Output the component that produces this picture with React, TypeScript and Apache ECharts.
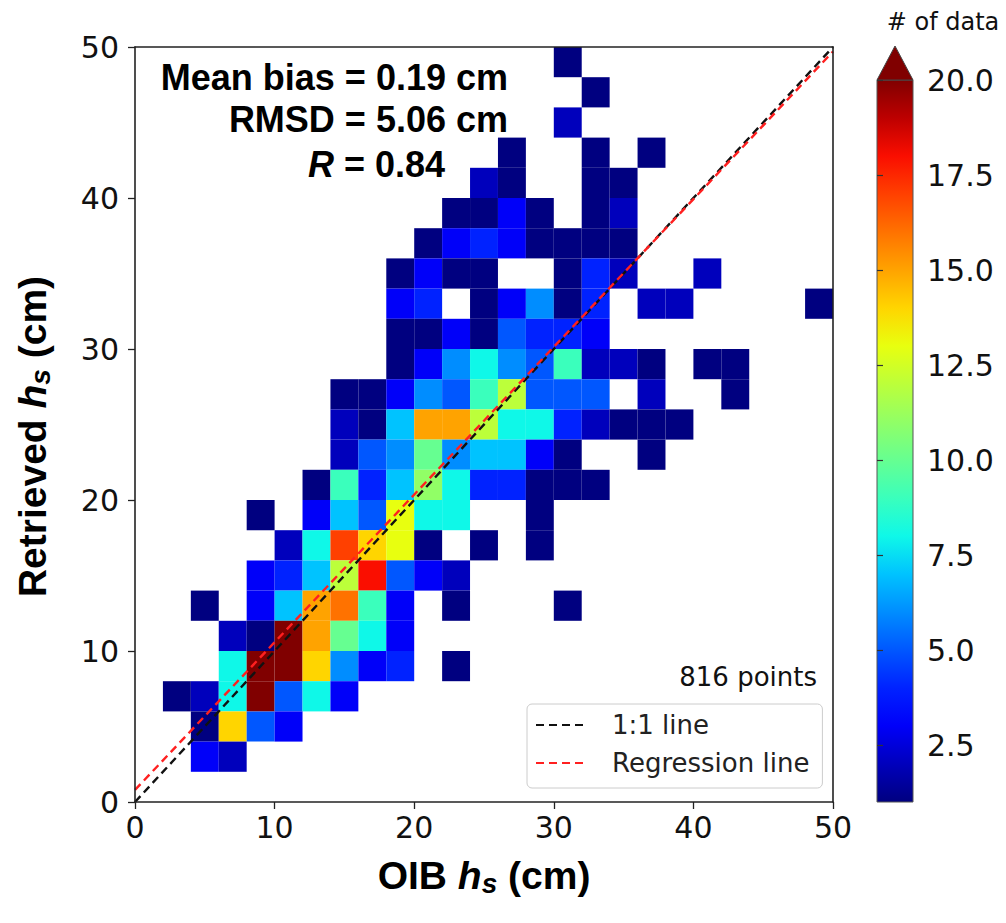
import React, { useEffect, useRef } from "react";
import * as echarts from "echarts";

// ---------------- data ----------------
// 2 cm bin edges used on both axes (cm)
const binEdges = [0, 2, 4, 6, 8, 10, 12, 14, 16, 18, 20, 22, 24, 26, 28, 30, 32, 34, 36, 38, 40, 42, 44, 46, 48, 50];

// counts[r][c]: r = 0 is the top row (Retrieved 48–50 cm), c = 0 is the left column (OIB 0–2 cm)
const counts = [
  [0, 0, 0, 0, 0, 0, 0, 0, 0, 0, 0, 0, 0, 0, 0, 1, 0, 0, 0, 0, 0, 0, 0, 0, 0],
  [0, 0, 0, 0, 0, 0, 0, 0, 0, 0, 0, 0, 0, 0, 0, 0, 1, 0, 0, 0, 0, 0, 0, 0, 0],
  [0, 0, 0, 0, 0, 0, 0, 0, 0, 0, 0, 0, 0, 0, 0, 2, 0, 0, 0, 0, 0, 0, 0, 0, 0],
  [0, 0, 0, 0, 0, 0, 0, 0, 0, 0, 0, 0, 0, 1, 0, 0, 1, 0, 1, 0, 0, 0, 0, 0, 0],
  [0, 0, 0, 0, 0, 0, 0, 0, 0, 0, 0, 0, 2, 1, 0, 0, 1, 1, 0, 0, 0, 0, 0, 0, 0],
  [0, 0, 0, 0, 0, 0, 0, 0, 0, 0, 0, 1, 1, 3, 1, 0, 1, 2, 0, 0, 0, 0, 0, 0, 0],
  [0, 0, 0, 0, 0, 0, 0, 0, 0, 0, 1, 3, 4, 3, 1, 1, 1, 1, 0, 0, 0, 0, 0, 0, 0],
  [0, 0, 0, 0, 0, 0, 0, 0, 0, 1, 3, 1, 1, 0, 0, 1, 4, 2, 0, 0, 2, 0, 0, 0, 0],
  [0, 0, 0, 0, 0, 0, 0, 0, 0, 3, 4, 0, 1, 3, 6, 1, 4, 0, 2, 2, 0, 0, 0, 0, 1],
  [0, 0, 0, 0, 0, 0, 0, 0, 0, 1, 1, 3, 1, 5, 4, 4, 3, 0, 0, 0, 0, 0, 0, 0, 0],
  [0, 0, 0, 0, 0, 0, 0, 0, 0, 1, 3, 6, 8, 6, 5, 9, 2, 2, 1, 0, 1, 1, 0, 0, 0],
  [0, 0, 0, 0, 0, 0, 0, 1, 1, 3, 6, 5, 9, 12, 5, 5, 5, 0, 2, 0, 0, 1, 0, 0, 0],
  [0, 0, 0, 0, 0, 0, 0, 2, 1, 7, 15, 15, 12, 8, 8, 4, 2, 1, 1, 1, 0, 0, 0, 0, 0],
  [0, 0, 0, 0, 0, 0, 0, 2, 5, 6, 10, 6, 7, 7, 3, 1, 0, 0, 1, 0, 0, 0, 0, 0, 0],
  [0, 0, 0, 0, 0, 0, 1, 9, 4, 7, 11, 8, 4, 4, 1, 1, 1, 0, 0, 0, 0, 0, 0, 0, 0],
  [0, 0, 0, 0, 1, 0, 3, 7, 5, 13, 8, 8, 0, 0, 1, 0, 0, 0, 0, 0, 0, 0, 0, 0, 0],
  [0, 0, 0, 0, 0, 2, 8, 17, 14, 13, 1, 0, 1, 0, 1, 0, 0, 0, 0, 0, 0, 0, 0, 0, 0],
  [0, 0, 0, 0, 3, 4, 7, 12, 18, 5, 3, 2, 0, 0, 0, 0, 0, 0, 0, 0, 0, 0, 0, 0, 0],
  [0, 0, 1, 0, 3, 7, 15, 16, 9, 3, 0, 1, 0, 0, 0, 1, 0, 0, 0, 0, 0, 0, 0, 0, 0],
  [0, 0, 0, 2, 1, 26, 15, 10, 8, 3, 0, 0, 0, 0, 0, 0, 0, 0, 0, 0, 0, 0, 0, 0, 0],
  [0, 0, 0, 8, 25, 24, 14, 6, 3, 4, 0, 1, 0, 0, 0, 0, 0, 0, 0, 0, 0, 0, 0, 0, 0],
  [0, 1, 2, 8, 22, 5, 8, 3, 0, 0, 0, 0, 0, 0, 0, 0, 0, 0, 0, 0, 0, 0, 0, 0, 0],
  [0, 0, 1, 14, 5, 3, 0, 0, 0, 0, 0, 0, 0, 0, 0, 0, 0, 0, 0, 0, 0, 0, 0, 0, 0],
  [0, 0, 3, 2, 0, 0, 0, 0, 0, 0, 0, 0, 0, 0, 0, 0, 0, 0, 0, 0, 0, 0, 0, 0, 0],
  [0, 0, 0, 0, 0, 0, 0, 0, 0, 0, 0, 0, 0, 0, 0, 0, 0, 0, 0, 0, 0, 0, 0, 0, 0],
];

const oneToOneLine = [[0, 0], [50, 50]];
const regressionLine = [[0, 0.8], [50, 49.7]];

const colorbarTicks = [2.5, 5, 7.5, 10, 12.5, 15, 17.5, 20];
const colorMin = 1;
const colorMax = 20;

const meanBias = "0.19";
const rmsd = "5.06";
const corrR = "0.84";
const nPoints = 816;

// jet colormap sampled at counts 1..20
const jetColors = [
  "#000080", "#0000bc", "#0000f9", "#0022ff", "#0057ff", "#008dff", "#00c3ff",
  "#0ff8e8", "#3affbc", "#66ff91", "#91ff66", "#bcff3a", "#e8ff0f", "#ffd500",
  "#ffa300", "#ff7200", "#ff4000", "#fa0e00", "#bd0000", "#800000",
];

// ---------------- layout ----------------
const PLOT = { left: 135, top: 47, width: 698, height: 755 };
const CBAR = { left: 877, top: 80, width: 36, height: 722 };
const TICK_FONT = "DejaVu Sans";
const TITLE_FONT = "Liberation Sans";

export default function App() {
  const ref = useRef<HTMLDivElement>(null);

  useEffect(() => {
    document.body.style.margin = "0";
    const chart = echarts.init(ref.current!, null, { renderer: "svg" });

    const nRows = counts.length;
    const cells: number[][] = [];
    counts.forEach((row, r) => {
      const j = nRows - 1 - r;
      row.forEach((v, c) => {
        if (v > 0) cells.push([binEdges[c], binEdges[c + 1], binEdges[j], binEdges[j + 1], v]);
      });
    });

    const titleRich = {
      b: { fontSize: 39, fontWeight: "bold", fontFamily: TITLE_FONT, color: "#000", lineHeight: 44 },
      i: { fontSize: 39, fontWeight: "bold", fontStyle: "italic", fontFamily: TITLE_FONT, color: "#000", lineHeight: 44 },
      s: { fontSize: 28, fontWeight: "bold", fontStyle: "italic", fontFamily: TITLE_FONT, color: "#000", lineHeight: 16, verticalAlign: "bottom" },
    };

    const spine = { show: true, onZero: false, lineStyle: { color: "#222", width: 1.6 } };
    const tickLabel = { fontSize: 30, fontFamily: TICK_FONT, color: "#111" };

    const statFont = `bold 36px "${TITLE_FONT}"`;

    const option: any = {
      animation: false,
      backgroundColor: "#fff",
      grid: [
        { left: PLOT.left, top: PLOT.top, width: PLOT.width, height: PLOT.height },
        { left: CBAR.left, top: CBAR.top, width: CBAR.width, height: CBAR.height },
      ],
      xAxis: [
        {
          gridIndex: 0, type: "value", min: 0, max: 50, interval: 10, position: "bottom", z: 10,
          axisLine: spine,
          axisTick: { show: true, length: 7, lineStyle: { color: "#222", width: 1.3 } },
          axisLabel: { ...tickLabel, margin: 10 },
          splitLine: { show: false },
          name: "{b|OIB }{i|h}{s|s}{b| (cm)}",
          nameLocation: "middle",
          nameGap: 51,
          nameTextStyle: { rich: titleRich },
        },
        {
          gridIndex: 0, type: "value", min: 0, max: 50, position: "top", z: 10,
          axisLine: spine, axisTick: { show: false }, axisLabel: { show: false }, splitLine: { show: false },
        },
        { gridIndex: 1, type: "value", min: 0, max: 1, show: false },
      ],
      yAxis: [
        {
          gridIndex: 0, type: "value", min: 0, max: 50, interval: 10, position: "left", z: 10,
          axisLine: spine,
          axisTick: { show: true, length: 7, lineStyle: { color: "#222", width: 1.3 } },
          axisLabel: { ...tickLabel, margin: 16 },
          splitLine: { show: false },
          name: "{b|Retrieved }{i|h}{s|s}{b| (cm)}",
          nameLocation: "middle",
          nameGap: 81,
          nameTextStyle: { rich: titleRich, padding: [0, 24, 0, 0] },
        },
        {
          gridIndex: 0, type: "value", min: 0, max: 50, position: "right", z: 10,
          axisLine: spine, axisTick: { show: false }, axisLabel: { show: false }, splitLine: { show: false },
        },
        {
          gridIndex: 1, type: "value", min: colorMin, max: colorMax, position: "right",
          axisLine: { show: false },
          axisTick: { show: true, length: 6, customValues: colorbarTicks, lineStyle: { color: "#333", width: 1.2 } },
          axisLabel: { ...tickLabel, margin: 14, customValues: colorbarTicks, formatter: (v: number) => v.toFixed(1) },
          splitLine: { show: false },
        },
      ],
      visualMap: {
        type: "continuous", show: false, min: colorMin, max: colorMax, dimension: 4, seriesIndex: 0,
        inRange: { color: jetColors },
      },
      legend: {
        data: ["1:1 line", "Regression line"],
        orient: "vertical",
        left: 527, top: 704,
        itemWidth: 52, itemHeight: 14, itemGap: 12,
        padding: [8, 13, 12, 8],
        backgroundColor: "#fff", borderColor: "#ccc", borderWidth: 1, borderRadius: 5,
        selectedMode: false,
        itemStyle: { opacity: 0 },
        textStyle: { fontSize: 26, fontFamily: TICK_FONT, color: "#222", padding: [0, 0, 0, 19] },
      },
      series: [
        {
          type: "custom",
          xAxisIndex: 0, yAxisIndex: 0,
          data: cells,
          encode: { x: [0, 1], y: [2, 3] },
          renderItem: (params: any, api: any) => {
            const p1 = api.coord([api.value(0), api.value(3)]);
            const p2 = api.coord([api.value(1), api.value(2)]);
            return {
              type: "rect",
              shape: { x: p1[0], y: p1[1], width: p2[0] - p1[0], height: p2[1] - p1[1] },
              style: { fill: api.visual("color") },
            };
          },
        },
        {
          type: "line", name: "1:1 line", xAxisIndex: 0, yAxisIndex: 0, data: oneToOneLine,
          symbol: "none", lineStyle: { color: "#111", width: 2.4, type: [8, 5] }, itemStyle: { color: "#111" },
        },
        {
          type: "line", name: "Regression line", xAxisIndex: 0, yAxisIndex: 0, data: regressionLine,
          symbol: "none", lineStyle: { color: "#ff2020", width: 2.4, type: [8, 5] }, itemStyle: { color: "#ff2020" },
        },
      ],
      graphic: [
        {
          type: "text",
          style: { text: `Mean bias = ${meanBias} cm`, x: 508, y: 77, font: statFont, fill: "#000", textAlign: "right", textVerticalAlign: "middle", align: "right", verticalAlign: "middle" },
        },
        {
          type: "text",
          style: { text: `RMSD = ${rmsd} cm`, x: 508, y: 119, font: statFont, fill: "#000", textAlign: "right", textVerticalAlign: "middle", align: "right", verticalAlign: "middle" },
        },
        {
          type: "text",
          style: {
            text: `{i|R}{n| = ${corrR}}`, x: 445, y: 164, font: statFont, fill: "#000",
            textAlign: "right", textVerticalAlign: "middle", align: "right", verticalAlign: "middle",
            rich: {
              i: { font: `italic bold 36px "${TITLE_FONT}"`, fill: "#000" },
              n: { font: statFont, fill: "#000" },
            },
          },
        },
        {
          type: "text",
          style: { text: `${nPoints} points`, x: 817, y: 677, font: `26px "${TICK_FONT}"`, fill: "#111", textAlign: "right", textVerticalAlign: "middle", align: "right", verticalAlign: "middle" },
        },
        {
          type: "text",
          style: { text: "# of data", x: 943, y: 22, font: `24px "${TICK_FONT}"`, fill: "#111", textAlign: "center", textVerticalAlign: "middle", align: "center", verticalAlign: "middle" },
        },
        {
          type: "rect",
          shape: { x: CBAR.left, y: CBAR.top, width: CBAR.width, height: CBAR.height },
          style: {
            fill: new echarts.graphic.LinearGradient(0, 1, 0, 0,
              jetColors.map((c, k) => ({ offset: k / (jetColors.length - 1), color: c }))),
            stroke: "#555", lineWidth: 1,
          },
        },
        {
          type: "polygon",
          shape: { points: [[CBAR.left, CBAR.top], [CBAR.left + CBAR.width, CBAR.top], [CBAR.left + CBAR.width / 2, CBAR.top - 34]] },
          style: { fill: jetColors[jetColors.length - 1], stroke: "#444", lineWidth: 1 },
        },
      ],
    };

    chart.setOption(option);
    return () => chart.dispose();
  }, []);

  return <div ref={ref} style={{ position: "absolute", left: 0, top: 0, width: 1006, height: 923 }} />;
}
